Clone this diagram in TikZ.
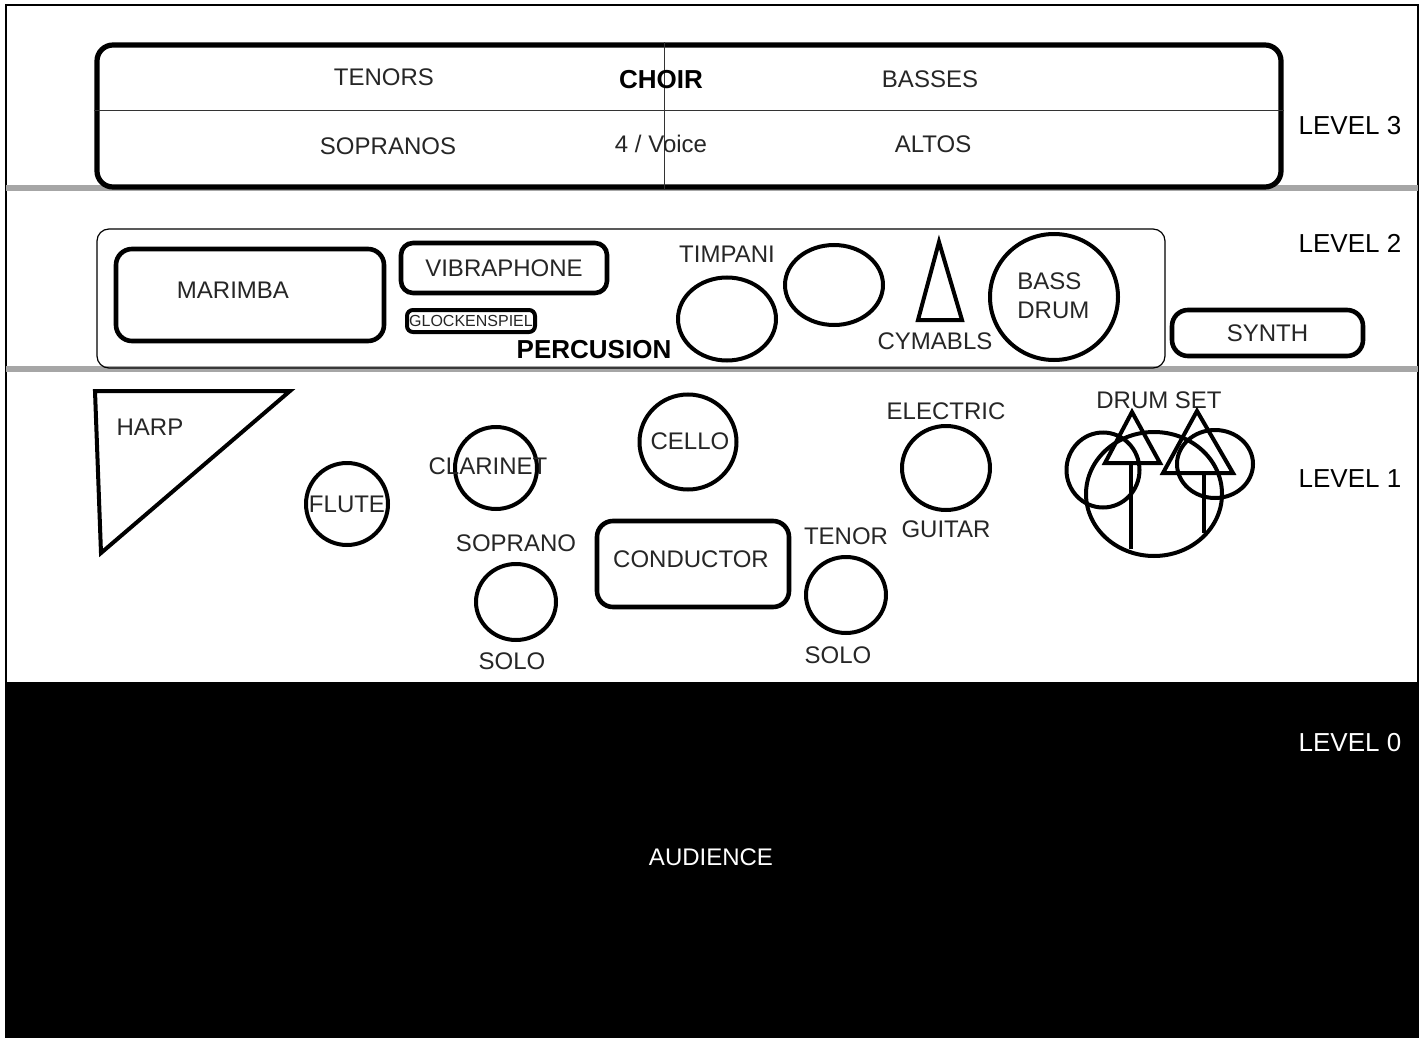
\documentclass[tikz,border=0pt]{standalone}
\usepackage{fontspec}
\setmainfont{Liberation Sans}
\usetikzlibrary{shapes.geometric,positioning}
\tikzset{
  felirat/.style={inner sep=0pt,text=black!85,font=\fontsize{12}{14}\selectfont},
  kiemelt/.style={inner sep=0pt,font=\bfseries\fontsize{13}{15}\selectfont},
  szint/.style={inner sep=0pt,font=\fontsize{13}{15}\selectfont},
  doboz/.style={draw,line width=2.3pt,rounded corners=8pt,inner sep=0pt},
  dob/.style={draw,ellipse,line width=2pt,inner sep=0pt},
  haromszog/.style={line width=2pt,line join=miter},
  hatar/.style={line width=2.8pt,black!35},
  vekony/.style={line width=0.5pt,black!80},
}
\begin{document}
\begin{tikzpicture}[x=0.5pt,y=-0.5pt]
  % hatter, keret, szintek
  \fill[white] (0,0) rectangle (1425,1038);
  \useasboundingbox (0,0) rectangle (1425,1038);
  \fill[black] (6,682) rectangle (1418,1040);
  \draw[line width=1pt] (6,1040) -- (6,5) -- (1418,5) -- (1418,1040);
  \draw[hatar] (6,188) -- (1418,188);
  \draw[hatar] (6,369) -- (1418,369);
  \node[szint] (lvl3) at (1350,126) {LEVEL 3};
  \node[szint] (lvl2) at (1350,243) {LEVEL 2};
  \node[szint] (lvl1) at (1350,479) {LEVEL 1};
  \node[szint,text=white] (lvl0) at (1350,743) {LEVEL 0};
  \node[felirat,text=white] (audience) at (711,857) {AUDIENCE};

  % kórus
  \node[doboz,line width=2.6pt,minimum width=592pt,minimum height=71pt] (korus) at (689,116) {};
  \draw[vekony] (korus.west |- 0,111) -- (korus.east |- 0,111);
  \draw[vekony] (korus.north -| 664,0) -- (korus.south -| 664,0);
  \node[felirat] (tenors) at (384,77) {TENORS};
  \node[kiemelt] (choir) at (661,80) {CHOIR};
  \node[felirat] (basses) at (930,79) {BASSES};
  \node[felirat] (sopranos) at (388,146) {SOPRANOS};
  \node[felirat] (voice) at (661,144) {4 / Voice};
  \node[felirat] (altos) at (933,144) {ALTOS};

  % ütősök
  \node[draw,line width=0.6pt,rounded corners=6pt,minimum width=534pt,minimum height=69.5pt] (perc) at (631,298.5) {};
  \node[doboz,minimum width=134pt,minimum height=46pt] (marimba) at (250,295) {};
  \node[felirat] at (233,290) {MARIMBA};
  \node[doboz,rounded corners=6pt,minimum width=103pt,minimum height=25pt,felirat] (vibra) at (504,268) {VIBRAPHONE};
  \node[doboz,line width=2pt,rounded corners=3pt,minimum width=64pt,minimum height=11pt,felirat,font=\fontsize{8}{9}\selectfont] (glock) at (471,321) {GLOCKENSPIEL};
  \node[kiemelt] (percusion) at (594,350) {PERCUSION};
  \node[dob,minimum width=49pt,minimum height=41.5pt] (timp1) at (727,319) {};
  \node[dob,minimum width=49pt,minimum height=40pt] (timp2) at (834,285) {};
  \node[felirat,above=6.5pt of timp1] (timpani) {TIMPANI};
  \coordinate (cym1) at (939,242);
  \coordinate (cym2) at (918,320);
  \coordinate (cym3) at (962,320);
  \draw[haromszog] (cym1) -- (cym2) -- (cym3) -- cycle;
  \node[felirat] (cymbals) at (935,341) {CYMABLS};
  \node[dob,minimum width=64pt,minimum height=63pt] (bass) at (1054,297) {};
  \node[felirat,align=left,anchor=west,font=\fontsize{12}{14.5}\selectfont] at (1017,296) {BASS\\DRUM};
  \node[doboz,minimum width=95.5pt,minimum height=23pt,felirat] (synth) at (1267.5,333) {SYNTH};

  % zenekar
  \coordinate (harp1) at (95,391);
  \coordinate (harp2) at (290,391);
  \coordinate (harp3) at (101,553);
  \draw[haromszog] (harp1) -- (harp2) -- (harp3) -- cycle;
  \node[felirat] (harp) at (150,427) {HARP};
  \node[dob,minimum size=41pt] (flute) at (347,504) {};
  \node[felirat] at (flute) {FLUTE};
  \node[dob,minimum size=41pt] (clarinet) at (496,468) {};
  \node[felirat] at (488,466) {CLARINET};
  \node[dob,minimum width=48.5pt,minimum height=47.5pt] (cello) at (688,442) {};
  \node[felirat] at (690,441) {CELLO};
  \node[dob,minimum width=44pt,minimum height=42pt] (guitar) at (946,468) {};
  \node[felirat,above=2pt of guitar] {ELECTRIC};
  \node[felirat,below=4pt of guitar] {GUITAR};
  \node[dob,minimum width=40pt,minimum height=38pt] (solo1) at (516,602) {};
  \node[felirat,above=5pt of solo1] {SOPRANO};
  \node[felirat,below=5pt of solo1,xshift=-2pt] {SOLO};
  \node[dob,minimum width=40pt,minimum height=38pt] (solo2) at (846,595) {};
  \node[felirat,above=5pt of solo2] {TENOR};
  \node[felirat,below=5.5pt of solo2,xshift=-4pt] {SOLO};
  \node[doboz,minimum width=96pt,minimum height=43pt] (conductor) at (693,564) {};
  \node[felirat] at (691,559) {CONDUCTOR};

  % dobfelszerelés
  \node[felirat] (drumset) at (1159,400) {DRUM SET};
  \node[dob,minimum width=68pt,minimum height=62pt] (kick) at (1154,494) {};
  \node[dob,minimum width=36.5pt,minimum height=37.5pt] (tom1) at (1103,470) {};
  \node[dob,minimum width=38pt,minimum height=34pt] (tom2) at (1215,464) {};
  \coordinate (hh1) at (1132,412);
  \coordinate (hh2) at (1105,463);
  \coordinate (hh3) at (1160,463);
  \coordinate (cr1) at (1197,411);
  \coordinate (cr2) at (1163,473);
  \coordinate (cr3) at (1233,473);
  \draw[haromszog] (hh1) -- (hh2) -- (hh3) -- cycle;
  \draw[haromszog] (cr1) -- (cr2) -- (cr3) -- cycle;
  \draw[line width=2pt] (1131,463) -- (1131,549);
  \draw[line width=2pt] (1204,473) -- (1204,533);
\end{tikzpicture}
\end{document}
